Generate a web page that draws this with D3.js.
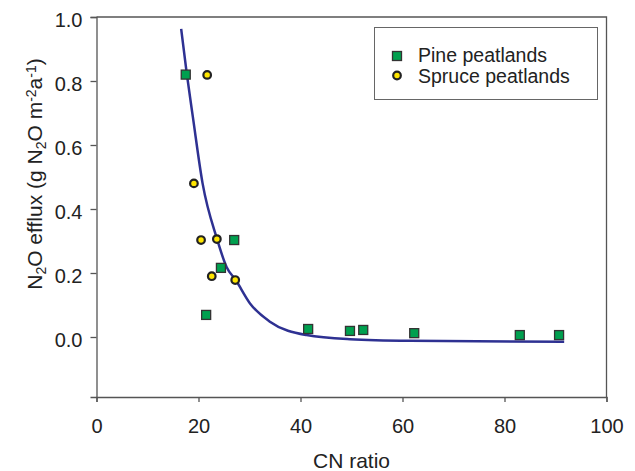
<!DOCTYPE html>
<html>
<head>
<meta charset="utf-8">
<script src="https://d3js.org/d3.v7.min.js"></script>
<style>
  body { margin: 0; background: #fff; }
  text { font-family: "Liberation Sans", Arial, sans-serif; fill: #222; }
</style>
</head>
<body>
<svg id="chart" width="635" height="471"></svg>
<script>
// pine peatlands: CN ratio, N2O efflux
const pineCN   = [17.5, 27.0, 24.4, 21.5, 41.5, 49.7, 52.3, 62.3, 83.0, 90.7];
const pineN2O  = [0.820, 0.303, 0.216, 0.069, 0.025, 0.019, 0.022, 0.012, 0.006, 0.006];
// spruce peatlands
const spruceCN  = [21.7, 19.1, 20.5, 23.6, 22.6, 27.2];
const spruceN2O = [0.819, 0.480, 0.303, 0.306, 0.190, 0.178];
// fitted line
const fitCN  = [16.6, 17.7, 18.9, 20.8, 23.6, 25.5, 27.3, 30.1, 34.0, 41.2, 49.7, 61.5, 91.7];
const fitN2O = [0.963, 0.823, 0.687, 0.480, 0.308, 0.219, 0.178, 0.105, 0.048, 0.006, -0.007, -0.012, -0.015];

const xTicks = [0, 20, 40, 60, 80, 100];
const yTicks = [0, 0.2, 0.4, 0.6, 0.8, 1.0];

const svg = d3.select("#chart");
const mLeft = 96.5, mRight = 606.5, mTop = 17, mBottom = 397;

const x = d3.scaleLinear().domain([0, 100]).range([mLeft, mRight]);
const y = d3.scaleLinear().domain([-0.1875, 1.0]).range([mBottom, mTop]);

// frame (top and right)
svg.append("path")
  .attr("d", `M${mLeft},${mTop}H${mRight}V${mBottom}`)
  .attr("fill", "none")
  .attr("stroke", "#555")
  .attr("stroke-width", 1.3);

// axes
const xAxis = svg.append("g")
  .attr("transform", `translate(0,${mBottom})`)
  .call(d3.axisBottom(x).tickValues(xTicks).tickSize(5).tickPadding(17).tickFormat(d3.format("d")));
const yAxis = svg.append("g")
  .attr("transform", `translate(${mLeft},0)`)
  .call(d3.axisLeft(y).tickValues(yTicks).tickSize(6).tickPadding(8).tickFormat(d3.format(".1f")));

[xAxis, yAxis].forEach(g => {
  g.select(".domain").attr("stroke", "#555").attr("stroke-width", 1.3);
  g.selectAll(".tick line").attr("stroke", "#555").attr("stroke-width", 1.3);
  g.selectAll(".tick text")
    .attr("font-size", 20)
    .attr("fill", "#222")
    .style("font-family", "'Liberation Sans', Arial, sans-serif");
});
yAxis.selectAll(".tick text").attr("dy", "0.45em");

// axis titles
svg.append("text")
  .attr("x", (mLeft + mRight) / 2)
  .attr("y", 468)
  .attr("text-anchor", "middle")
  .attr("font-size", 21)
  .text("CN ratio");

const yTitle = svg.append("text")
  .attr("transform", "translate(42,174) rotate(-90)")
  .attr("text-anchor", "middle")
  .attr("font-size", 21);
const parts = [
  ["N", 0], ["2", 1], ["O efflux (g N", 0], ["2", 1], ["O m", 0], ["-2", -1], ["a", 0], ["-1", -1], [")", 0]
];
parts.forEach(([t, s]) => {
  const ts = yTitle.append("tspan").text(t);
  if (s === 1) ts.attr("font-size", 14).attr("baseline-shift", "-25%");
  if (s === -1) ts.attr("font-size", 14).attr("baseline-shift", "45%");
});

// fitted curve
const fit = fitCN.map((d, i) => [d, fitN2O[i]]);
svg.append("path")
  .datum(fit)
  .attr("fill", "none")
  .attr("stroke", "#2e3192")
  .attr("stroke-width", 2.5)
  .attr("d", d3.line().x(d => x(d[0])).y(d => y(d[1])).curve(d3.curveMonotoneX));

// pine squares
const sq = 9;
svg.selectAll(".pine")
  .data(pineCN.map((d, i) => [d, pineN2O[i]]))
  .join("rect")
  .attr("class", "pine")
  .attr("x", d => x(d[0]) - sq / 2)
  .attr("y", d => y(d[1]) - sq / 2)
  .attr("width", sq)
  .attr("height", sq)
  .attr("fill", "#00a04f")
  .attr("stroke", "#333")
  .attr("stroke-width", 1.3);

// spruce circles
svg.selectAll(".spruce")
  .data(spruceCN.map((d, i) => [d, spruceN2O[i]]))
  .join("circle")
  .attr("class", "spruce")
  .attr("cx", d => x(d[0]))
  .attr("cy", d => y(d[1]))
  .attr("r", 3.8)
  .attr("fill", "#ffe600")
  .attr("stroke", "#222")
  .attr("stroke-width", 2.2);

// legend
const lg = svg.append("g");
lg.append("rect")
  .attr("x", 374.5).attr("y", 27.5)
  .attr("width", 223).attr("height", 72)
  .attr("fill", "#fff")
  .attr("stroke", "#666")
  .attr("stroke-width", 1);
lg.append("rect")
  .attr("x", 397 - sq / 2).attr("y", 56 - sq / 2)
  .attr("width", sq).attr("height", sq)
  .attr("fill", "#00a04f").attr("stroke", "#333").attr("stroke-width", 1.3);
lg.append("circle")
  .attr("cx", 397).attr("cy", 75.5).attr("r", 3.8)
  .attr("fill", "#ffe600").attr("stroke", "#222").attr("stroke-width", 2.2);
lg.append("text").attr("x", 418).attr("y", 62).attr("font-size", 19.5).text("Pine peatlands");
lg.append("text").attr("x", 418).attr("y", 83).attr("font-size", 19.5).text("Spruce peatlands");
</script>
</body>
</html>
